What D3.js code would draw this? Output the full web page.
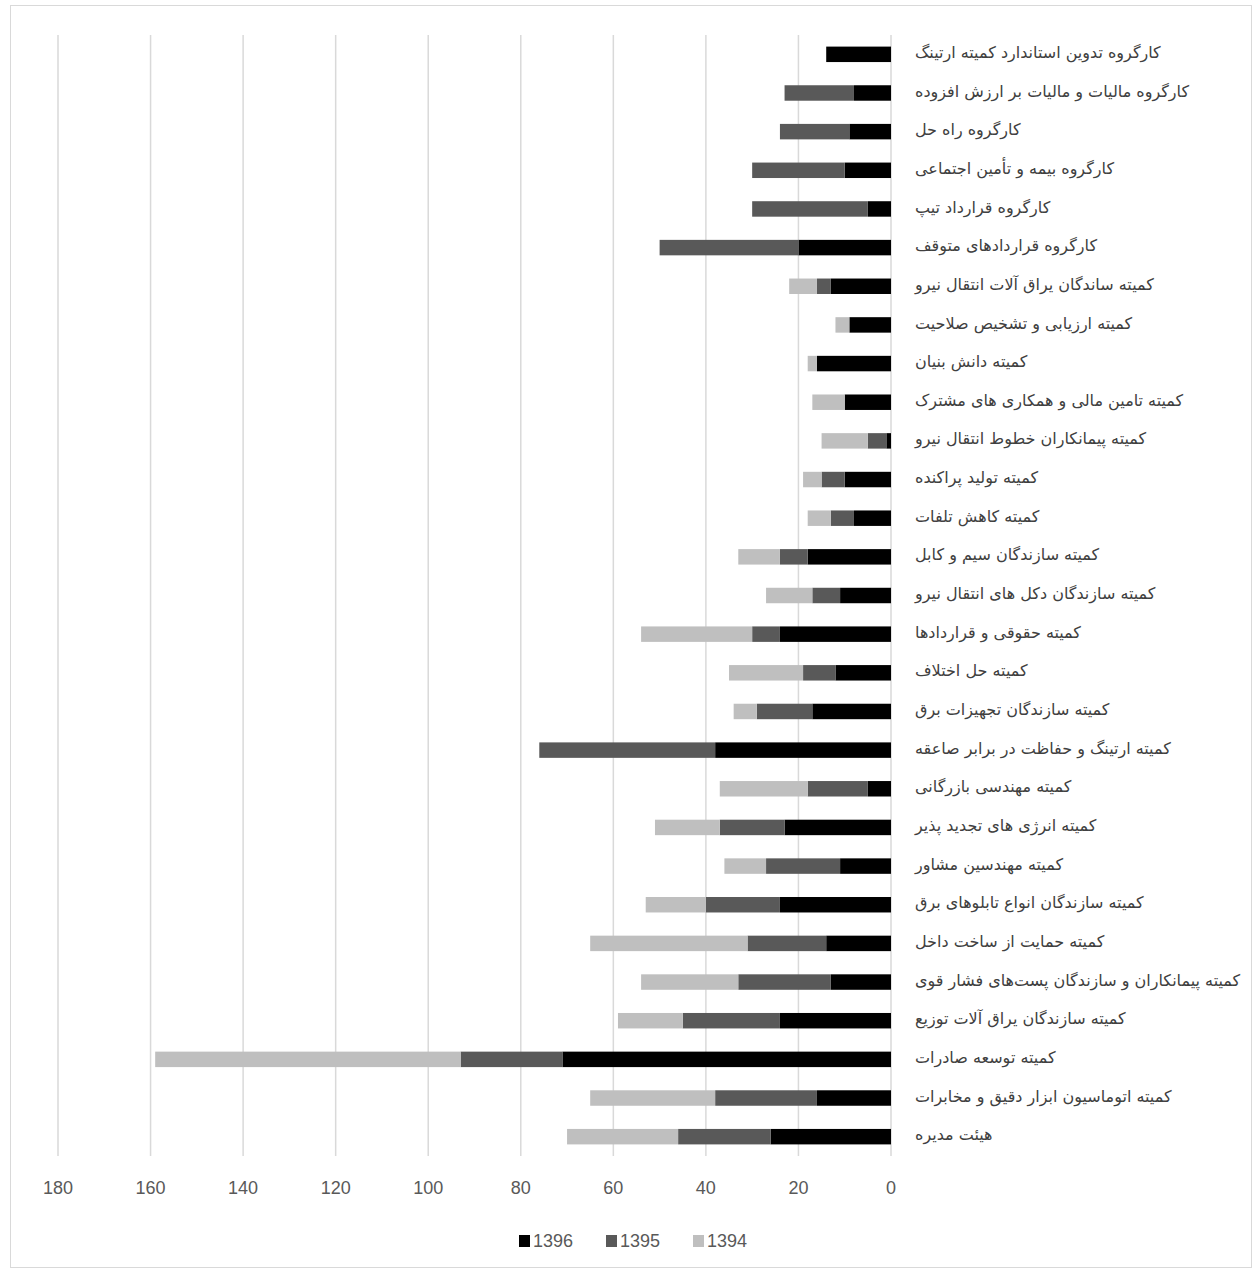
<!DOCTYPE html>
<html>
<head>
<meta charset="utf-8">
<script src="https://cdn.jsdelivr.net/npm/d3@7"></script>
<style>
  body { margin: 0; background: #fff; }
</style>
</head>
<body>
<div id="chart"></div>
<script>
const categories = [
  "کارگروه تدوین استاندارد کمیته ارتینگ",
  "کارگروه مالیات و مالیات بر ارزش افزوده",
  "کارگروه راه حل",
  "کارگروه بیمه و تأمین اجتماعی",
  "کارگروه قرارداد تیپ",
  "کارگروه قراردادهای متوقف",
  "کمیته ساندگان یراق آلات انتقال نیرو",
  "کمیته ارزیابی و تشخیص صلاحیت",
  "کمیته دانش بنیان",
  "کمیته تامین مالی و همکاری های مشترک",
  "کمیته پیمانکاران خطوط انتقال نیرو",
  "کمیته تولید پراکنده",
  "کمیته کاهش تلفات",
  "کمیته سازندگان سیم و کابل",
  "کمیته سازندگان دکل های انتقال نیرو",
  "کمیته حقوقی و قراردادها",
  "کمیته حل اختلاف",
  "کمیته سازندگان تجهیزات برق",
  "کمیته ارتینگ و حفاظت در برابر صاعقه",
  "کمیته مهندسی بازرگانی",
  "کمیته انرژی های تجدید پذیر",
  "کمیته مهندسین مشاور",
  "کمیته سازندگان انواع تابلوهای برق",
  "کمیته حمایت از ساخت داخل",
  "کمیته پیمانکاران و سازندگان پست\u200cهای فشار قوی",
  "کمیته سازندگان یراق آلات توزیع",
  "کمیته توسعه صادرات",
  "کمیته اتوماسیون ابزار دقیق و مخابرات",
  "هیئت مدیره"
];

const v1396 = [14, 8, 9, 10, 5, 20, 13, 9, 16, 10, 1, 10, 8, 18, 11, 24, 12, 17, 38, 5, 23, 11, 24, 14, 13, 24, 71, 16, 26];
const v1395 = [0, 15, 15, 20, 25, 30, 3, 0, 0, 0, 4, 5, 5, 6, 6, 6, 7, 12, 38, 13, 14, 16, 16, 17, 20, 21, 22, 22, 20];
const v1394 = [0, 0, 0, 0, 0, 0, 6, 3, 2, 7, 10, 4, 5, 9, 10, 24, 16, 5, 0, 19, 14, 9, 13, 34, 21, 14, 66, 27, 24];

const seriesNames = ["1396", "1395", "1394"];
const colors = ["#000000", "#595959", "#bfbfbf"];
const xTicks = [0, 20, 40, 60, 80, 100, 120, 140, 160, 180];

const width = 1254;
const height = 1270;

const rows = categories.map((c, i) => ({
  name: c,
  "1396": v1396[i],
  "1395": v1395[i],
  "1394": v1394[i],
}));

const svg = d3
  .select("#chart")
  .append("svg")
  .attr("width", width)
  .attr("height", height);

// chart border
svg
  .append("rect")
  .attr("x", 10.5)
  .attr("y", 5.5)
  .attr("width", 1241)
  .attr("height", 1262)
  .attr("fill", "#fff")
  .attr("stroke", "#d9d9d9");

const x = d3.scaleLinear().domain([0, 180]).range([891, 58]);
const y = d3
  .scaleBand()
  .domain(categories)
  .range([35, 1156])
  .paddingInner(0.6)
  .paddingOuter(0.3);

// gridlines
svg
  .append("g")
  .selectAll("line")
  .data(xTicks)
  .enter()
  .append("line")
  .attr("x1", (d) => x(d))
  .attr("x2", (d) => x(d))
  .attr("y1", 35)
  .attr("y2", 1156)
  .attr("stroke", "#d9d9d9")
  .attr("stroke-width", 1.5);

const stack = d3.stack().keys(seriesNames)(rows);

svg
  .append("g")
  .selectAll("g")
  .data(stack)
  .enter()
  .append("g")
  .attr("fill", (d, i) => colors[i])
  .selectAll("rect")
  .data((d) => d)
  .enter()
  .append("rect")
  .attr("x", (d) => x(d[1]))
  .attr("width", (d) => x(d[0]) - x(d[1]))
  .attr("y", (d) => y(d.data.name))
  .attr("height", y.bandwidth());

// tick labels
svg
  .append("g")
  .selectAll("text")
  .data(xTicks)
  .enter()
  .append("text")
  .attr("x", (d) => x(d))
  .attr("y", 1188)
  .attr("dy", "0.35em")
  .attr("text-anchor", "middle")
  .attr("font-family", "'Liberation Sans Narrow', 'Liberation Sans', sans-serif")
  .attr("font-size", 18)
  .attr("fill", "#595959")
  .text((d) => d);

// category labels
svg
  .append("g")
  .selectAll("text")
  .data(categories)
  .enter()
  .append("text")
  .attr("x", 915)
  .attr("y", (d) => y(d) + y.bandwidth() / 2 - 2)
  .attr("dy", "0.35em")
  .attr("direction", "rtl")
  .attr("text-anchor", "end")
  .attr("font-family", "'DejaVu Sans', sans-serif")
  .attr("font-size", 16)
  .attr("fill", "#404040")
  .text((d) => d);

// legend
const legendX = [519, 606, 693];
const legend = svg
  .append("g")
  .selectAll("g")
  .data(seriesNames)
  .enter()
  .append("g")
  .attr("transform", (d, i) => `translate(${legendX[i]},1241)`);

legend
  .append("rect")
  .attr("x", 0)
  .attr("y", -6)
  .attr("width", 11)
  .attr("height", 12)
  .attr("fill", (d, i) => colors[i]);

legend
  .append("text")
  .attr("x", 14)
  .attr("y", 0)
  .attr("dy", "0.35em")
  .attr("font-family", "'Liberation Sans Narrow', 'Liberation Sans', sans-serif")
  .attr("font-size", 18)
  .attr("fill", "#595959")
  .text((d) => d);
</script>
</body>
</html>
